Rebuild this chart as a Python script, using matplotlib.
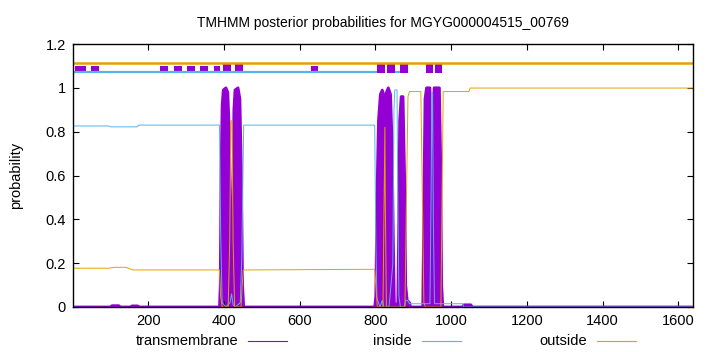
import matplotlib
matplotlib.use("Agg")
import matplotlib.pyplot as plt
from matplotlib.lines import Line2D

plt.rcParams['font.family'] = ['Liberation Sans', 'DejaVu Sans']

# posterior curves as (residue, probability) points
tm_pos = [1, 100, 104, 122, 126, 153, 157, 172, 176, 388, 390, 392, 395, 398, 405, 410, 414, 417, 419,
          421, 423, 426, 429, 437, 442, 446, 449, 452, 798, 801, 804, 808, 813, 818, 822, 824, 826,
          829, 834, 840, 844, 847, 850, 859, 861, 864, 868, 873, 877, 880, 884, 890, 893, 925, 928,
          931, 935, 944, 946, 948, 950, 952, 955, 969, 972, 975, 978, 1030, 1034, 1052, 1056, 1639]
tm_val = [0, 0, 0.006, 0.006, 0, 0, 0.005, 0.005, 0, 0, 0.1, 0.6, 0.92, 0.99, 1.0, 0.98, 0.8, 0.4, 0.05,
          0.03, 0.4, 0.9, 0.99, 1.0, 0.95, 0.6, 0.1, 0, 0, 0.05, 0.5, 0.85, 0.97, 0.99, 0.97, 0.85,
          0.88, 0.98, 1.0, 0.97, 0.75, 0.35, 0.02, 0.0, 0.3, 0.85, 0.96, 0.96, 0.6, 0.1, 0.03, 0.02,
          0, 0, 0.5, 0.95, 1.0, 1.0, 0.6, 0.05, 0.02, 0.5, 1.0, 1.0, 0.7, 0.1, 0, 0, 0.01, 0.01, 0, 0]

in_pos = [1, 95, 100, 170, 175, 388, 391, 395, 405, 416, 420, 424, 430, 443, 447, 450, 452, 798, 801,
          804, 812, 818, 822, 836, 841, 846, 849, 851, 857, 859, 862, 866, 876, 880, 885, 890, 944,
          947, 949, 951, 953, 956, 1030, 1034, 1639]
in_val = [0.826, 0.826, 0.822, 0.822, 0.830, 0.830, 0.35, 0.02, 0.0, 0.02, 0.06, 0.01, 0.0, 0.02, 0.23,
          0.6, 0.830, 0.830, 0.3, 0.04, 0.0, 0.03, 0.0, 0.0, 0.1, 0.2, 0.9, 0.99, 0.99, 0.5, 0.05, 0.0,
          0.0, 0.03, 0.03, 0.015, 0.015, 0.5, 0.98, 0.98, 0.4, 0.015, 0.015, 0.0, 0.0]

out_pos = [1, 95, 110, 140, 160, 388, 391, 395, 411, 415, 418, 421, 424, 428, 445, 448, 451, 798, 801,
           805, 820, 823, 825, 826, 829, 878, 882, 886, 890, 920, 924, 928, 932, 973, 976, 979, 1047,
           1050, 1639]
out_val = [0.177, 0.177, 0.181, 0.181, 0.169, 0.169, 0.05, 0.0, 0.0, 0.3, 0.85, 0.85, 0.3, 0.0, 0.0,
           0.1, 0.169, 0.172, 0.1, 0.0, 0.0, 0.5, 0.82, 0.5, 0.0, 0.0, 0.5, 0.96, 0.983, 0.983, 0.5,
           0.02, 0.0, 0.0, 0.5, 0.983, 0.983, 0.999, 0.999]

# predicted topology track at the top
seq_len = 1639
inside_segments = [(1, 803), (851, 864)]
tm_small = [(6, 35), (48, 70), (231, 252), (268, 290), (302, 322), (336, 358), (373, 390), (631, 648)]
tm_big = [(396, 419), (428, 449), (805, 824), (830, 851), (864, 886), (933, 951), (957, 976)]

PURPLE = '#9400d3'
CYAN = '#56b4e9'
ORANGE = '#e69f00'
FS = 10.5

fig = plt.figure(figsize=(7.2, 3.52), dpi=100)
ax = fig.add_axes([73 / 720, 1 - 307 / 352, 620 / 720, 263 / 352])

# topology track
ax.plot([1, seq_len], [1.112, 1.112], color=ORANGE, lw=1.8, solid_capstyle='butt')
for s, e in inside_segments:
    ax.plot([s, e], [1.0716, 1.0716], color=CYAN, lw=1.6, solid_capstyle='butt')
for s, e in tm_small:
    ax.fill_between([s, e], 1.076, 1.100, color=PURPLE, lw=0)
for s, e in tm_big:
    ax.fill_between([s, e], 1.067, 1.113, color=PURPLE, lw=0)

# posterior curves
ax.fill_between(tm_pos, 0, tm_val, color=PURPLE, lw=0)
ax.plot(tm_pos, tm_val, color=PURPLE, lw=2.0)
ax.plot(in_pos, in_val, color=CYAN, lw=0.7)
ax.plot(out_pos, out_val, color=ORANGE, lw=0.7)

ax.set_xlim(1, seq_len)
ax.set_ylim(0, 1.2)
ax.set_xticks([200, 400, 600, 800, 1000, 1200, 1400, 1600])
ax.set_yticks([0, 0.2, 0.4, 0.6, 0.8, 1.0, 1.2])
ax.set_yticklabels(['0', '0.2', '0.4', '0.6', '0.8', '1', '1.2'])
ax.tick_params(direction='in', top=True, right=True, length=4, width=0.8, labelsize=FS, pad=5)
for sp in ax.spines.values():
    sp.set_linewidth(1.0)

ax.set_ylabel('probability', fontsize=FS, labelpad=16)
ax.set_title('TMHMM posterior probabilities for MGYG000004515_00769', fontsize=10, pad=12)

# legend below the plot, gnuplot style
legend = [('transmembrane', PURPLE, 238, 248), ('inside', CYAN, 412, 422), ('outside', ORANGE, 587, 597)]
ly = 1 - 341 / 352
for label, col, tx, lx in legend:
    fig.text(tx / 720, ly, label, ha='right', va='center', fontsize=FS)
    fig.add_artist(Line2D([lx / 720, (lx + 39) / 720], [ly, ly], color=col, lw=0.8))

fig.savefig('out.png', dpi=100)
